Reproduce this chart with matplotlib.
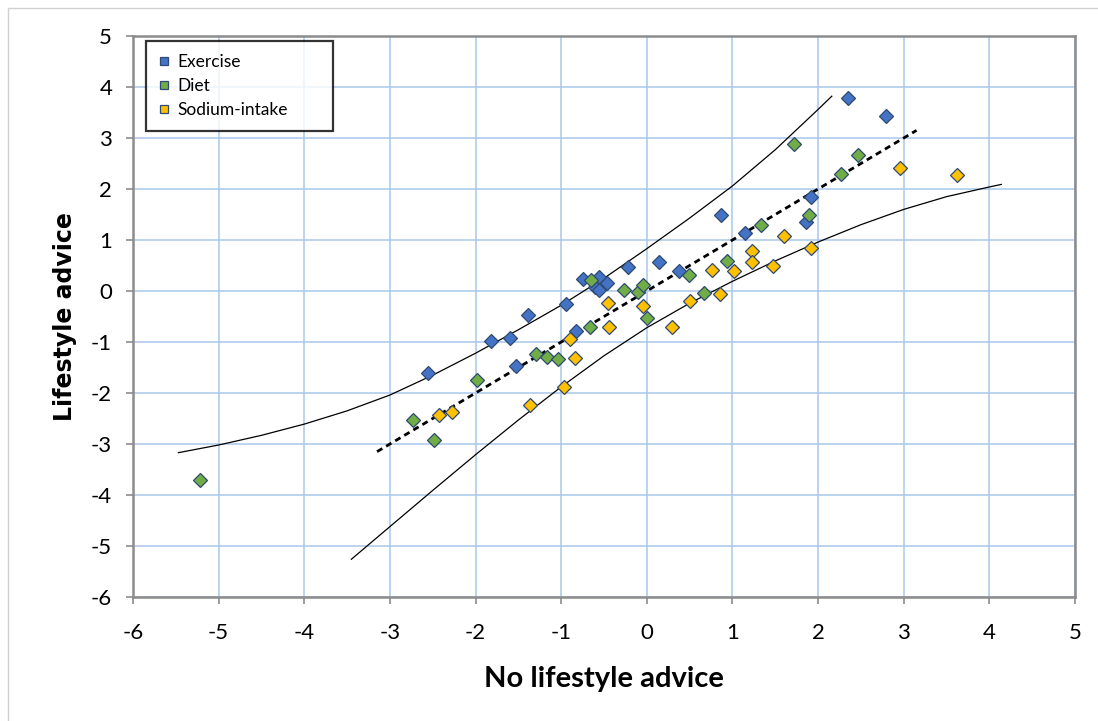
import numpy as np
import matplotlib.pyplot as plt
from matplotlib.patches import Rectangle

plt.rcParams["axes.unicode_minus"] = False

# Scores: x = no lifestyle advice, y = lifestyle advice
exercise_x = [-2.55, -1.82, -1.60, -1.53, -1.39, -0.94, -0.83, -0.75, -0.56, -0.47, -0.61,
              -0.56, -0.22, 0.14, 0.38, 0.87, 1.15, 1.86, 1.92, 2.35, 2.79]
exercise_y = [-1.61, -0.99, -0.93, -1.48, -0.48, -0.25, -0.78, 0.24, 0.28, 0.16, 0.08,
              0.01, 0.48, 0.56, 0.40, 1.49, 1.14, 1.36, 1.84, 3.78, 3.44]

diet_x = [-5.22, -2.73, -2.49, -1.98, -1.29, -1.17, -1.04, -0.66, -0.65, -0.27, -0.10,
          -0.04, 0.00, 0.49, 0.67, 0.94, 1.33, 1.89, 1.72, 2.27, 2.47]
diet_y = [-3.70, -2.53, -2.92, -1.75, -1.23, -1.29, -1.34, -0.71, 0.22, 0.01, -0.02,
          0.12, -0.52, 0.31, -0.03, 0.59, 1.29, 1.50, 2.88, 2.30, 2.67]

sodium_x = [-2.43, -2.27, -1.36, -0.97, -0.90, -0.84, -0.45, -0.44, -0.05, 0.29, 0.51,
            0.85, 0.76, 1.02, 1.23, 1.23, 1.47, 1.60, 1.92, 2.96, 3.62]
sodium_y = [-2.43, -2.37, -2.23, -1.88, -0.94, -1.31, -0.24, -0.71, -0.30, -0.71, -0.20,
            -0.05, 0.42, 0.40, 0.78, 0.56, 0.50, 1.08, 0.85, 2.42, 2.27]

# line of identity and the two limit curves
identity_x = [-3.15, 3.15]
identity_y = [-3.15, 3.15]

upper_x = [-5.47, -5.0, -4.5, -4.0, -3.5, -3.0, -2.5, -2.0, -1.5, -1.0, -0.5,
           0.0, 0.5, 1.0, 1.5, 2.0, 2.16]
upper_y = [-3.17, -3.02, -2.83, -2.61, -2.35, -2.04, -1.65, -1.22, -0.76, -0.28, 0.25,
           0.83, 1.43, 2.06, 2.77, 3.56, 3.82]

lower_x = [-3.45, -3.0, -2.5, -2.0, -1.5, -1.0, -0.5, 0.0, 0.5, 1.0, 1.5,
           2.0, 2.5, 3.0, 3.5, 4.0, 4.14]
lower_y = [-5.26, -4.62, -3.91, -3.21, -2.53, -1.88, -1.27, -0.72, -0.24, 0.19, 0.59,
           0.96, 1.30, 1.60, 1.85, 2.04, 2.09]

fig = plt.figure(figsize=(10.98, 7.21), dpi=100)
fig.patches.append(Rectangle((8 / 1098, -0.01), 1.02, 1 - 8 / 721 + 0.01, transform=fig.transFigure,
                             fill=False, edgecolor="#d0d0d0", linewidth=1.0))
ax = fig.add_axes([133 / 1098, 1 - 597 / 721, 942 / 1098, 561 / 721])

ax.plot(upper_x, upper_y, color="black", linewidth=0.9, zorder=3)
ax.plot(lower_x, lower_y, color="black", linewidth=0.9, zorder=3)
ax.plot(identity_x, identity_y, color="black", linewidth=2.0, linestyle=(0, (2.2, 1.6)), zorder=3)

edge = "#2f4a72"
ax.plot(exercise_x, exercise_y, "D", color="#4472c4", markeredgecolor=edge, markeredgewidth=0.9,
        markersize=7.3, label="Exercise", zorder=4)
ax.plot(diet_x, diet_y, "D", color="#70ad47", markeredgecolor=edge, markeredgewidth=0.9,
        markersize=7.3, label="Diet", zorder=4)
ax.plot(sodium_x, sodium_y, "D", color="#ffc000", markeredgecolor=edge, markeredgewidth=0.9,
        markersize=7.3, label="Sodium-intake", zorder=4)

ax.set_xlim(-6, 5)
ax.set_ylim(-6, 5)
ax.set_xticks(np.arange(-6, 6, 1))
ax.set_yticks(np.arange(-6, 6, 1))
ax.grid(True, color="#a9c8ea", linewidth=1.1)
ax.set_axisbelow(True)
for s in ax.spines.values():
    s.set_color("#8c8c8c")
    s.set_linewidth(1.8)
ax.tick_params(length=5, width=1.2, color="#8c8c8c", labelsize=16)
ax.tick_params(axis="x", pad=14)
ax.tick_params(axis="y", pad=10)
for lab in ax.get_xticklabels() + ax.get_yticklabels():
    lab.set_family("Lato")

ax.set_xlabel("No lifestyle advice", fontsize=21, fontweight="bold", family="Lato", labelpad=16)
ax.set_ylabel("Lifestyle advice", fontsize=17, fontweight="bold", family="DejaVu Sans", labelpad=10)

leg = ax.legend(loc="upper left", bbox_to_anchor=(0.0138, 0.836, 0.1985, 0.155), mode="expand",
                frameon=True, fancybox=False, prop={"family": "Lato", "size": 12.5},
                handlelength=0.6, handletextpad=0.45, borderpad=0.75, labelspacing=0.45,
                markerscale=0.75, borderaxespad=0)
leg.get_frame().set_edgecolor("black")
leg.get_frame().set_linewidth(1.6)
for h in leg.legend_handles:
    h.set_marker("s")

fig.savefig("out.png", dpi=100)
